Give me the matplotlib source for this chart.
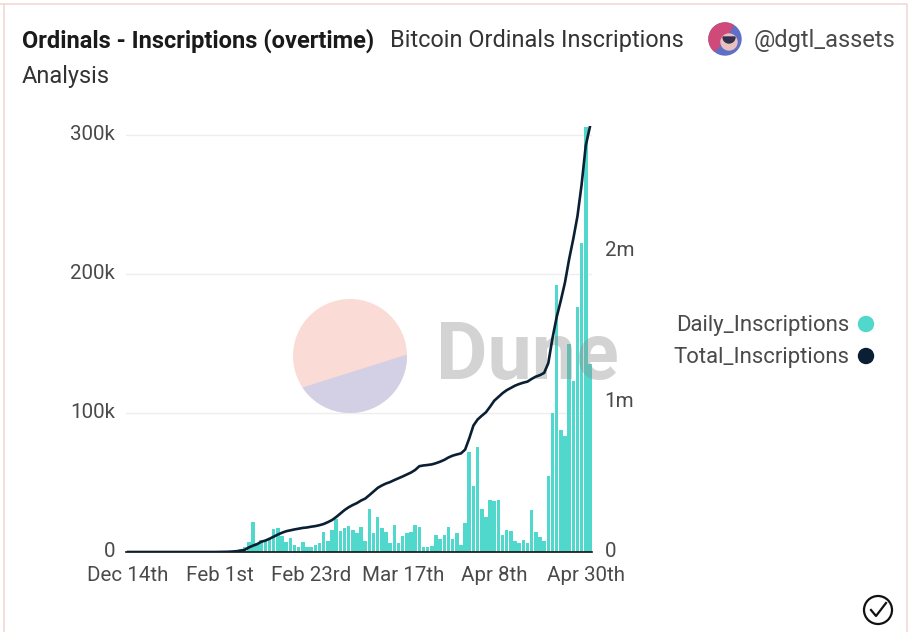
import matplotlib
matplotlib.use('Agg')
import matplotlib.pyplot as plt
from matplotlib.patches import Circle, Polygon, Wedge
from matplotlib.transforms import ScaledTranslation

plt.rcParams['font.family'] = ['Roboto', 'DejaVu Sans']

# x categories and tick labels
tick_positions = [0, 22, 44, 66, 88, 110]
tick_labels = ['Dec 14th', 'Feb 1st', 'Feb 23rd', 'Mar 17th', 'Apr 8th', 'Apr 30th']

# daily inscriptions (thousands)
daily_k = [0, 0, 0, 0, 0, 0, 0, 0, 0, 0, 0, 0, 0, 0, 0, 0, 0, 0, 0, 0, 0, 0,
           0.1, 0.3, 0.6, 0.9, 1.2, 2, 3.6, 7.2,
           21.6, 6.7, 8.4, 8.4, 9.6, 16.3, 17.3, 11.5, 7.2, 10.3, 4.8, 3.8, 7.2, 3.4, 3.4,
           5.3, 6.5, 14.4, 7.7, 15.6, 24, 14.9, 17.5, 18.7, 15.6, 13.9, 18.2, 7.7, 31.2,
           13.7, 25, 17.3, 14.4, 6.7, 19.7, 6.2, 11.5, 13.9, 14.4, 19.2, 18, 3.4, 3.4, 4.3,
           12.5, 9.1, 12.5, 17.8, 9.1, 13.4, 4.8, 21.1, 72, 47.5, 75.8, 31.2, 25.4, 37.2,
           36.7, 37.7, 12.5, 15.8, 15.1, 7.7, 6.7, 8.6, 6.7, 30, 14.4, 10.6, 8.2,
           55, 100, 192, 88, 83.5, 150, 123, 176, 222, 306, 135]

# total inscriptions (thousands)
total_k = [0, 0, 0, 0, 0, 0, 0, 0, 0, 0, 0, 0, 0, 0, 0, 0, 0, 0, 0, 0, 0, 0,
           0.5, 1, 1.5, 3, 5, 9, 14, 30,
           42, 52, 68, 76, 88, 102, 116, 128, 138, 144, 150, 155, 160, 163, 168,
           172, 178, 186, 198, 212, 232, 255, 278, 297, 312, 325, 342, 355, 378,
           402, 426, 442, 455, 465, 478, 490, 502, 515, 528, 545, 570, 575, 578, 582,
           590, 600, 612, 628, 640, 648, 655, 680, 755, 840, 880, 905, 928, 965,
           1005, 1030, 1055, 1075, 1090, 1105, 1116, 1125, 1132, 1150, 1165, 1175, 1190,
           1255, 1420, 1560, 1670, 1790, 1945, 2080, 2230, 2440, 2700, 2825]

left_ticks = [0, 100, 200, 300]
left_tick_labels = ['0', '100k', '200k', '300k']
right_ticks = [0, 1000, 2000]
right_tick_labels = ['0', '1m', '2m']

W, H = 922, 632
teal = '#4fd8cb'
navy = '#0a1f33'
grey = '#4a4a4a'

fig = plt.figure(figsize=(W / 100, H / 100), dpi=100)

# full size axes in pixel coordinates for the card, title and legend
bg = fig.add_axes([0, 0, 1, 1], zorder=0)
bg.set_xlim(0, W)
bg.set_ylim(H, 0)
bg.axis('off')
bg.plot([0, 907, 907], [4, 4, H], color='#f3d9d6', lw=1.2)
bg.plot([4, 4], [4, H], color='#f3d9d6', lw=1.2)

bg.text(22, 41, 'Ordinals - Inscriptions (overtime)', fontsize=17, fontweight='bold',
        color='#1a1a1a', va='center')
bg.text(390, 41, 'Bitcoin Ordinals Inscriptions', fontsize=16.9, color='#333333', va='center')
bg.text(22, 76, 'Analysis', fontsize=16.9, color='#333333', va='center')
bg.text(754, 41, '@dgtl_assets', fontsize=17, color=grey, va='center')

# avatar
bg.add_patch(Circle((725, 39), 16, color='#5f6fc4'))
bg.add_patch(Wedge((725, 39), 16, 130, 300, color='#cf4a78'))
bg.add_patch(Circle((729, 42), 8, color='#e9c0c0'))
bg.add_patch(Wedge((729, 37), 6, 0, 180, color='#33304f'))

# legend
bg.text(849, 326, 'Daily_Inscriptions', fontsize=15.9, color=grey, ha='right', va='center')
bg.text(849, 358, 'Total_Inscriptions', fontsize=15.9, color=grey, ha='right', va='center')
bg.add_patch(Circle((866, 324), 7.5, color=teal))
bg.add_patch(Circle((866, 356), 7.5, color=navy))

# check mark bottom right
bg.add_patch(Circle((878, 610), 14, fill=False, ec='#111111', lw=1.6))
bg.plot([871, 876, 886], [610, 616, 603], color='#111111', lw=1.6)

# bars on left scale
ax1 = fig.add_axes([126 / W, 1 - 552 / H, 466 / W, 426 / H], zorder=1)
ax1.patch.set_alpha(0)
xs = list(range(len(daily_k)))
ax1.bar(xs, daily_k, width=0.85, color=teal)
ax1.set_xlim(-0.5, 111.5)
ax1.set_ylim(0, 306.5)
ax1.set_yticks(left_ticks)
ax1.set_yticklabels(left_tick_labels)
ax1.set_xticks(tick_positions)
ax1.set_xticklabels(tick_labels)
ax1.tick_params(axis='both', length=0, labelsize=14.8, labelcolor=grey)
ax1.tick_params(axis='x', pad=10)
ax1.tick_params(axis='y', pad=8)
ax1.yaxis.grid(True, color='#eeeeee', lw=1)
ax1.set_axisbelow(True)
for side in ['top', 'right', 'left']:
    ax1.spines[side].set_visible(False)
ax1.spines['bottom'].set_color('#111111')
ax1.spines['bottom'].set_linewidth(1.2)

# watermark sits over the bars but under the line
wm = fig.add_axes([0, 0, 1, 1], zorder=2)
wm.set_xlim(0, W)
wm.set_ylim(H, 0)
wm.axis('off')
wm.add_patch(Circle((350, 356), 57, color='#f9c9bf', alpha=0.65, lw=0))
seg = Polygon([(285, 393), (415, 352), (415, 420), (285, 420)], color='#cdcee8', alpha=0.85, lw=0)
wm.add_patch(seg)
seg.set_clip_path(Circle((350, 356), 57, transform=wm.transData))
wm.text(436, 358, 'Dune', fontsize=57, fontweight='bold', color='#8c8c8c', alpha=0.38,
        va='center')

# line on right scale
ax2 = fig.add_axes(ax1.get_position(), zorder=3)
ax2.patch.set_alpha(0)
ax2.plot(xs, total_k, color=navy, lw=1.9)
ax2.set_xlim(-0.5, 111.5)
ax2.set_ylim(0, 2830)
ax2.xaxis.set_visible(False)
ax2.yaxis.tick_right()
ax2.set_yticks(right_ticks)
ax2.set_yticklabels(right_tick_labels)
ax2.tick_params(axis='y', length=0, labelsize=14.8, labelcolor=grey, pad=9)
for spine in ax2.spines.values():
    spine.set_visible(False)

# y labels sit a little above their gridlines in the original
nudge = ScaledTranslation(0, 1.5 / 72, fig.dpi_scale_trans)
for label in ax1.get_yticklabels() + ax2.get_yticklabels():
    label.set_transform(label.get_transform() + nudge)

fig.savefig('out.png', dpi=100)
